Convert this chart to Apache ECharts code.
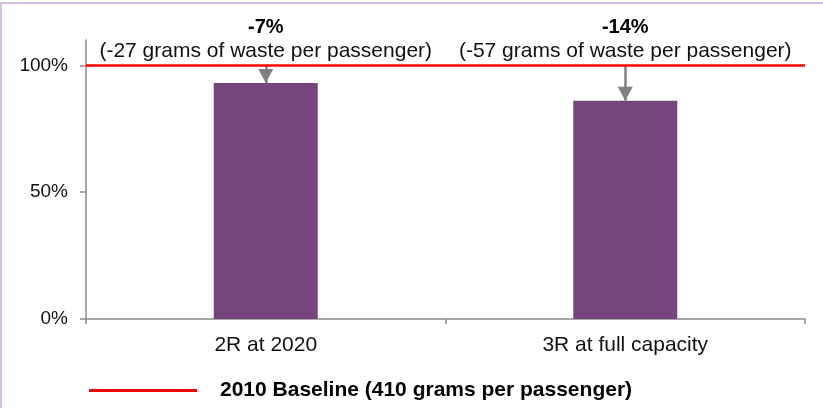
<!DOCTYPE html>
<html>
<head>
<meta charset="utf-8">
<script src="https://cdn.jsdelivr.net/npm/echarts@6/dist/echarts.min.js"></script>
<style>
html,body{margin:0;padding:0;background:#fff;}
#chart{width:823px;height:408px;}
</style>
</head>
<body>
<div id="chart"></div>
<script>
const categories = ['2R at 2020', '3R at full capacity'];
const values = [93, 86];
const changes = ['-7%', '-14%'];
const notes = ['(-27 grams of waste per passenger)', '(-57 grams of waste per passenger)'];
const baseline = 100;
const yTicks = [0, 50, 100];
const baselineName = '2010 Baseline (410 grams per passenger)';

const FONT = '"Liberation Sans", Arial, sans-serif';
const chart = echarts.init(document.getElementById('chart'), null, {renderer: 'canvas'});

const option = {
  animation: false,
  textStyle: {fontFamily: FONT},
  graphic: [{
    type: 'rect', z: 100, silent: true,
    shape: {x: 1, y: 3, width: 900, height: 500},
    style: {fill: 'none', stroke: '#d6bfe0', lineWidth: 2}
  }],
  grid: {left: 86, right: 18, top: 40, bottom: 89},
  legend: {
    data: [{name: baselineName, icon: 'rect'}],
    left: 84, top: 375,
    itemWidth: 108, itemHeight: 3,
    itemStyle: {color: '#ff0000'},
    textStyle: {fontFamily: FONT, fontSize: 21, fontWeight: 'bold', color: '#000', padding: [0, 0, 0, 18]}
  },
  xAxis: {
    type: 'category',
    data: categories,
    axisLine: {lineStyle: {color: '#8a8a8a', width: 1.5}},
    axisTick: {show: true, length: 5, lineStyle: {color: '#8a8a8a', width: 1.5}},
    axisLabel: {fontFamily: FONT, fontSize: 21, color: '#111', margin: 16}
  },
  yAxis: {
    type: 'value',
    min: 0, max: 110,
    splitLine: {show: false},
    axisLine: {show: true, lineStyle: {color: '#8a8a8a', width: 1.5}},
    axisTick: {show: true, length: 6, customValues: yTicks, lineStyle: {color: '#8a8a8a', width: 1.5}},
    axisLabel: {fontFamily: FONT, fontSize: 19, color: '#111', margin: 18, customValues: yTicks, formatter: '{value}%'}
  },
  series: [
    {
      type: 'bar',
      name: 'values',
      data: values,
      barWidth: 104,
      itemStyle: {color: '#74467d'},
      markPoint: {
        symbol: 'circle', symbolSize: 0,
        label: {
          show: true, position: 'top', distance: 3,
          formatter: p => '{b|' + changes[p.dataIndex] + '}\n{n|' + notes[p.dataIndex] + '}',
          rich: {
            b: {fontFamily: FONT, fontSize: 20, fontWeight: 'bold', color: '#000', lineHeight: 23, align: 'center'},
            n: {fontFamily: FONT, fontSize: 21, color: '#111', lineHeight: 23, align: 'center'}
          }
        },
        data: categories.map((c, i) => ({coord: [i, baseline], value: i}))
      },
      markLine: {
        silent: true,
        symbol: ['none', 'triangle'],
        symbolSize: [15, 14],
        symbolOffset: [[0, 0], [0, 7]],
        lineStyle: {color: '#808080', width: 2.5, type: 'solid'},
        label: {show: false},
        data: categories.map((c, i) => [{coord: [i, baseline]}, {coord: [i, values[i]]}])
      }
    },
    {
      type: 'line',
      name: baselineName,
      data: [],
      symbol: 'none',
      itemStyle: {color: '#ff0000'},
      lineStyle: {color: '#ff0000', width: 2.5},
      markLine: {
        silent: true,
        symbol: 'none',
        label: {show: false},
        lineStyle: {color: '#ff0000', width: 2.5, type: 'solid'},
        data: [{yAxis: baseline}]
      }
    }
  ]
};
chart.setOption(option);
</script>
</body>
</html>
